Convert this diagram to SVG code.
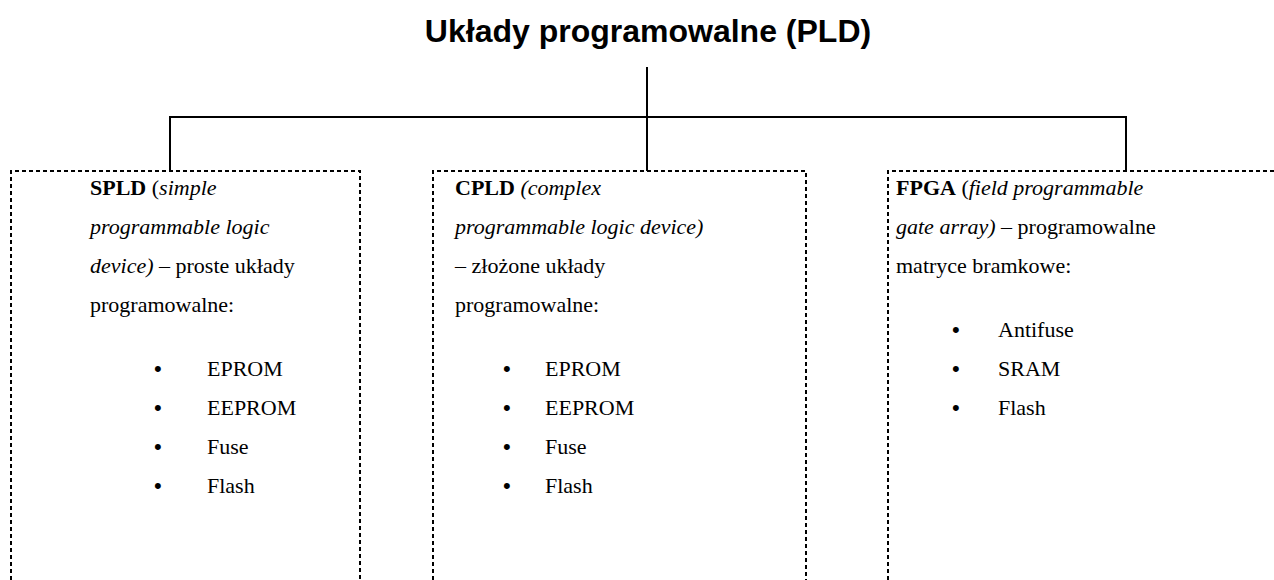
<svg xmlns="http://www.w3.org/2000/svg" width="1274" height="580" viewBox="0 0 1274 580">
<style>
.title{font-family:"Liberation Sans",Arial,sans-serif;font-weight:bold;font-size:32px;fill:#000}
.t{font-family:"Liberation Serif","Times New Roman",serif;font-size:22px;fill:#000}
.b{font-weight:bold}
.i{font-style:italic}
.bul{font-family:"Liberation Sans",Arial,sans-serif;font-size:22px;fill:#000}
.box{fill:none;stroke:#000;stroke-width:2;stroke-dasharray:4 3}
.conn{fill:none;stroke:#000;stroke-width:2}
</style>
<rect width="1274" height="580" fill="#fff"/>
<g id="title">
<text class="title" x="648" y="42" text-anchor="middle">Układy programowalne (PLD)</text>
</g>
<g id="connectors">
<path class="conn" d="M647 67 V171"/>
<path class="conn" d="M170 171 V117 H1126 V171"/>
</g>
<g id="spld">
<path class="box" d="M11 580 V171 H360 V580"/>
<text class="t" x="90" y="195"><tspan class="b">SPLD</tspan> (<tspan class="i">simple</tspan></text>
<text class="t i" x="90" y="234">programmable logic</text>
<text class="t" x="90" y="273"><tspan class="i">device)</tspan> – proste układy</text>
<text class="t" x="90" y="312">programowalne:</text>
<text class="bul" x="154" y="376">•</text><text class="t" x="207" y="376">EPROM</text>
<text class="bul" x="154" y="415">•</text><text class="t" x="207" y="415">EEPROM</text>
<text class="bul" x="154" y="454">•</text><text class="t" x="207" y="454">Fuse</text>
<text class="bul" x="154" y="493">•</text><text class="t" x="207" y="493">Flash</text>
</g>
<g id="cpld">
<path class="box" d="M433 580 V171 H806 V580"/>
<text class="t" x="455" y="195"><tspan class="b">CPLD</tspan><tspan class="i"> (complex</tspan></text>
<text class="t i" x="455" y="234">programmable logic device)</text>
<text class="t" x="455" y="273">– złożone układy</text>
<text class="t" x="455" y="312">programowalne:</text>
<text class="bul" x="503" y="376">•</text><text class="t" x="545" y="376">EPROM</text>
<text class="bul" x="503" y="415">•</text><text class="t" x="545" y="415">EEPROM</text>
<text class="bul" x="503" y="454">•</text><text class="t" x="545" y="454">Fuse</text>
<text class="bul" x="503" y="493">•</text><text class="t" x="545" y="493">Flash</text>
</g>
<g id="fpga">
<path class="box" d="M888 580 V171 H1274"/>
<text class="t" x="896" y="195"><tspan class="b">FPGA</tspan> (<tspan class="i">field programmable</tspan></text>
<text class="t" x="896" y="234"><tspan class="i">gate array)</tspan> – programowalne</text>
<text class="t" x="896" y="273">matryce bramkowe:</text>
<text class="bul" x="952" y="337">•</text><text class="t" x="998" y="337">Antifuse</text>
<text class="bul" x="952" y="376">•</text><text class="t" x="998" y="376">SRAM</text>
<text class="bul" x="952" y="415">•</text><text class="t" x="998" y="415">Flash</text>
</g>
</svg>
